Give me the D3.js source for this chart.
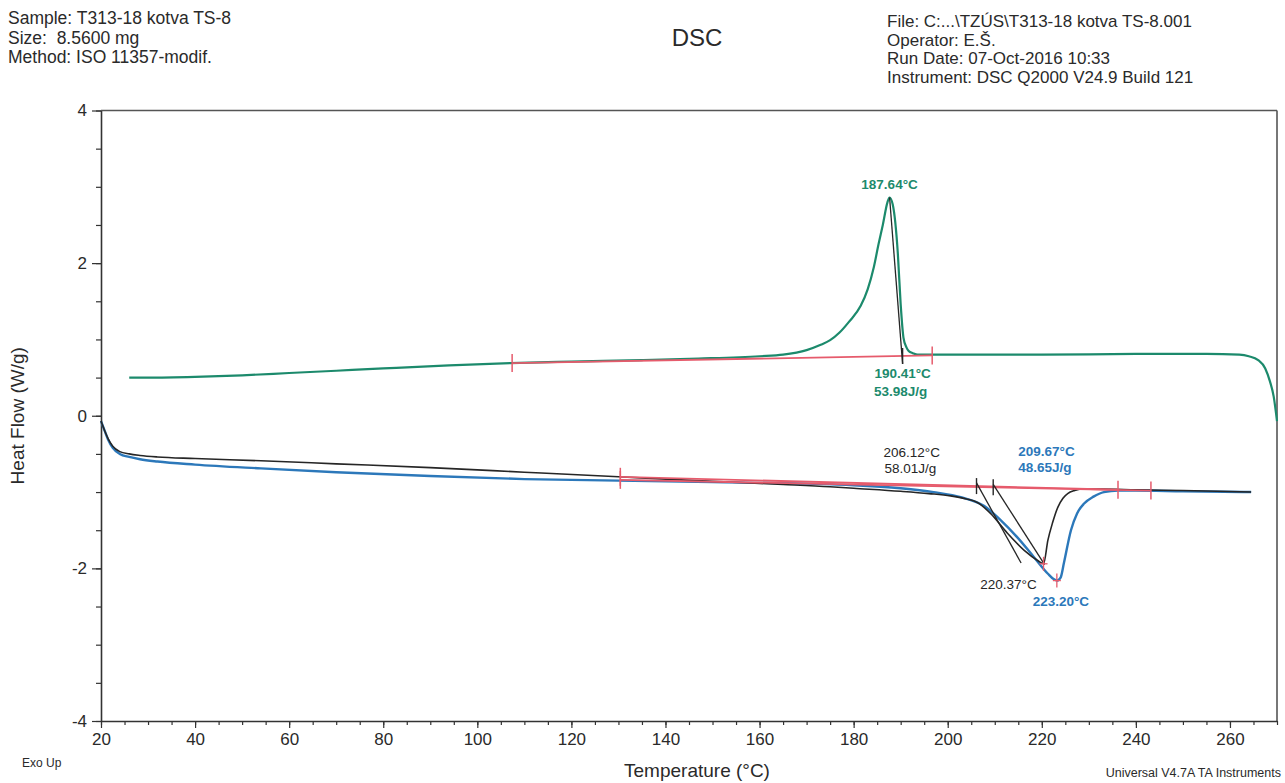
<!DOCTYPE html>
<html><head><meta charset="utf-8">
<script src="https://cdn.jsdelivr.net/npm/d3@7"></script>
<style>
body{margin:0;background:#fff;}
text{font-family:"Liberation Sans",Arial,sans-serif;}
</style>
</head><body>
<svg id="c" width="1285" height="783"></svg>
<script>
// ---------- data ----------
const greenT  = [26, 30, 40, 50, 60, 70, 80, 94, 107, 120, 135, 147, 160, 165, 170, 173, 175, 177, 179, 181.5, 183, 184.3, 185.3, 186.2, 187.2, 187.64, 188.3, 189.4, 190, 190.6, 191.2, 191.7, 192.6, 193.6, 200, 220, 240, 255, 262, 264, 266, 267.5, 268.5, 269.3, 270];
const greenHF = [0.50, 0.50, 0.51, 0.53, 0.56, 0.59, 0.62, 0.66, 0.69, 0.71, 0.73, 0.75, 0.78, 0.80, 0.86, 0.93, 0.99, 1.09, 1.23, 1.44, 1.66, 1.95, 2.25, 2.50, 2.80, 2.86, 2.77, 2.12, 1.46, 1.02, 0.90, 0.85, 0.82, 0.80, 0.80, 0.80, 0.81, 0.81, 0.80, 0.78, 0.73, 0.62, 0.45, 0.25, -0.07];

const blackT  = [20, 20.8, 21.5, 22.5, 24, 26, 28.3, 32, 40, 54, 70, 90, 110, 130, 150, 165, 175, 180, 190, 196, 200.6, 204, 206.4, 209.1, 212.7, 216.2, 219.2, 220.37, 221.3, 222.3, 223.4, 224.5, 225.5, 227, 229, 233, 240, 250, 264.5];
const blackHF = [-0.07, -0.20, -0.30, -0.40, -0.47, -0.50, -0.52, -0.54, -0.56, -0.59, -0.63, -0.68, -0.74, -0.80, -0.86, -0.90, -0.93, -0.95, -0.99, -1.02, -1.05, -1.09, -1.14, -1.28, -1.54, -1.76, -1.90, -1.94, -1.63, -1.40, -1.20, -1.08, -1.02, -0.98, -0.96, -0.96, -0.97, -0.98, -1.00];

const blueT  = [20, 20.8, 21.5, 22.5, 24, 26, 28.3, 32, 40, 54, 70, 90, 110, 130, 150, 170, 180, 190, 197, 203, 207.7, 211.3, 214.9, 218.3, 221.3, 222.5, 223.2, 224, 224.7, 226.2, 227.5, 229, 231, 233.2, 236.2, 240, 250, 264.5];
const blueHF = [-0.07, -0.20, -0.31, -0.42, -0.50, -0.54, -0.57, -0.60, -0.64, -0.69, -0.74, -0.79, -0.83, -0.85, -0.87, -0.89, -0.91, -0.95, -1.00, -1.07, -1.18, -1.37, -1.60, -1.85, -2.07, -2.14, -2.16, -2.12, -1.93, -1.50, -1.28, -1.15, -1.06, -1.00, -0.98, -0.98, -0.99, -1.00];

// integration baselines [T1, HF1, T2, HF2]
const baseGreen = [107.4, 0.69, 196.7, 0.79];
const baseBlack = [130.4, -0.80, 236.2, -0.97];
const baseBlue  = [130.4, -0.84, 243.2, -0.98];

// onset tangents [T1, HF1, T2, HF2]
const tanGreen = [187.64, 2.86, 190.41, 0.68];
const tanBlack = [206.12, -0.88, 215.6, -1.93];
const tanBlue  = [209.67, -0.90, 220.6, -1.95];

const xTicks = [20, 40, 60, 80, 100, 120, 140, 160, 180, 200, 220, 240, 260];
const yTicks = [-4, -2, 0, 2, 4];

const headerLeft  = ["Sample: T313-18 kotva TS-8", "Size:  8.5600 mg", "Method: ISO 11357-modif."];
const headerRight = ["File: C:...\\TZÚS\\T313-18 kotva TS-8.001", "Operator: E.Š.", "Run Date: 07-Oct-2016 10:33", "Instrument: DSC Q2000 V24.9 Build 121"];

// ---------- drawing ----------
const GREEN = "#1c8a6c", BLUE = "#2c78ba", BLACK = "#262626", RED = "#e65b6c";
const svg = d3.select("#c");
const x = d3.scaleLinear().domain([20, 270]).range([101, 1277]);
const y = d3.scaleLinear().domain([-4, 4]).range([721, 110.5]);

// header
svg.append("g").selectAll("text").data(headerLeft).join("text")
  .attr("x", 8).attr("y", (d, i) => 24 + i * 19.5)
  .attr("font-size", 17.5).attr("fill", "#2a2a2a").style("white-space", "pre").text(d => d);
svg.append("g").selectAll("text").data(headerRight).join("text")
  .attr("x", 887).attr("y", (d, i) => 27 + i * 18.7)
  .attr("font-size", 17).attr("fill", "#2a2a2a").text(d => d);
svg.append("text").attr("x", 697).attr("y", 46).attr("text-anchor", "middle")
  .attr("font-size", 24).attr("fill", "#2a2a2a").text("DSC");

// frame (top and right)
svg.append("line").attr("x1", x(20)).attr("x2", x(270)).attr("y1", y(4)).attr("y2", y(4))
  .attr("stroke", "#555").attr("stroke-width", 1.6);
svg.append("line").attr("x1", x(270)).attr("x2", x(270)).attr("y1", y(4)).attr("y2", y(-4))
  .attr("stroke", "#555").attr("stroke-width", 1.6);

// axes
const fmt = d => String(d);
const xMinor = d3.range(20, 271, 5);
const yMinor = d3.range(-4, 4.001, 0.5);
const gxm = svg.append("g").attr("transform", `translate(0,${y(-4)})`)
  .call(d3.axisBottom(x).tickValues(xMinor).tickSize(4).tickSizeOuter(0).tickFormat(""));
gxm.select(".domain").remove();
const gx = svg.append("g").attr("transform", `translate(0,${y(-4)})`)
  .call(d3.axisBottom(x).tickValues(xTicks).tickSize(7).tickSizeOuter(0).tickPadding(5).tickFormat(fmt));
const gym = svg.append("g").attr("transform", `translate(${x(20)},0)`)
  .call(d3.axisLeft(y).tickValues(yMinor).tickSize(5).tickSizeOuter(0).tickFormat(""));
gym.select(".domain").remove();
const gy = svg.append("g").attr("transform", `translate(${x(20)},0)`)
  .call(d3.axisLeft(y).tickValues(yTicks).tickSize(9).tickSizeOuter(0).tickPadding(5).tickFormat(fmt));
svg.selectAll(".domain").attr("stroke", "#333").attr("stroke-width", 1.6);
svg.selectAll(".tick line").attr("stroke", "#333").attr("stroke-width", 1.2);
gx.selectAll("text").attr("font-size", 17).attr("fill", "#2a2a2a").attr("font-family", "Liberation Sans, Arial, sans-serif");
gy.selectAll("text").attr("font-size", 17).attr("fill", "#2a2a2a").attr("font-family", "Liberation Sans, Arial, sans-serif");

// axis titles
svg.append("text").attr("transform", `translate(24,${y(0)}) rotate(-90)`).attr("text-anchor", "middle")
  .attr("font-size", 19).attr("fill", "#2a2a2a").text("Heat Flow (W/g)");
svg.append("text").attr("x", 697).attr("y", 777).attr("text-anchor", "middle")
  .attr("font-size", 19).attr("fill", "#2a2a2a").text("Temperature (°C)");
svg.append("text").attr("x", 22).attr("y", 767).attr("font-size", 12).attr("fill", "#2a2a2a").text("Exo Up");
svg.append("text").attr("x", 1281).attr("y", 777).attr("text-anchor", "end").attr("font-size", 12.5).attr("fill", "#2a2a2a").text("Universal V4.7A TA Instruments");

// curves
const line = d3.line().x(d => x(d[0])).y(d => y(d[1])).curve(d3.curveMonotoneX);
const series = [
  {T: greenT, v: greenHF, c: GREEN, w: 2.2},
  {T: blueT, v: blueHF, c: BLUE, w: 2.4},
  {T: blackT, v: blackHF, c: BLACK, w: 1.6}
];
series.forEach(s => {
  svg.append("path").datum(s.T.map((t, i) => [t, s.v[i]]))
    .attr("d", line).attr("fill", "none").attr("stroke", s.c).attr("stroke-width", s.w)
    .attr("stroke-linejoin", "round");
});

// baselines (red)
[baseGreen, baseBlack, baseBlue].forEach(b => {
  svg.append("line").attr("x1", x(b[0])).attr("y1", y(b[1])).attr("x2", x(b[2])).attr("y2", y(b[3]))
    .attr("stroke", RED).attr("stroke-width", 1.8);
  [[b[0], b[1]], [b[2], b[3]]].forEach(p => {
    svg.append("line").attr("x1", x(p[0])).attr("x2", x(p[0])).attr("y1", y(p[1]) - 9).attr("y2", y(p[1]) + 9)
      .attr("stroke", RED).attr("stroke-width", 1.5);
  });
});
function baseAt(b, T) { return b[1] + (T - b[0]) / (b[2] - b[0]) * (b[3] - b[1]); }

// tangents (black)
[tanGreen, tanBlack, tanBlue].forEach(t => {
  svg.append("line").attr("x1", x(t[0])).attr("y1", y(t[1])).attr("x2", x(t[2])).attr("y2", y(t[3]))
    .attr("stroke", BLACK).attr("stroke-width", 1.3);
});
// onset ticks
[[190.41, baseAt(baseGreen, 190.41)], [206.12, baseAt(baseBlack, 206.12)], [209.67, baseAt(baseBlue, 209.67)]].forEach(p => {
  svg.append("line").attr("x1", x(p[0])).attr("x2", x(p[0])).attr("y1", y(p[1]) - 8).attr("y2", y(p[1]) + 8)
    .attr("stroke", BLACK).attr("stroke-width", 1.4);
});
// peak markers (red crosses)
[[220.37, -1.94], [223.20, -2.16]].forEach(p => {
  svg.append("line").attr("x1", x(p[0])).attr("x2", x(p[0])).attr("y1", y(p[1]) - 7).attr("y2", y(p[1]) + 7).attr("stroke", RED).attr("stroke-width", 1.3);
  svg.append("line").attr("x1", x(p[0]) - 4).attr("x2", x(p[0]) + 4).attr("y1", y(p[1])).attr("y2", y(p[1])).attr("stroke", RED).attr("stroke-width", 1.3);
});

// annotations
const ann = [
  {t: "187.64°C", T: 187.64, v: 2.86, dx: 0, dy: -8, a: "middle", c: GREEN, b: true},
  {t: "190.41°C", T: 190.41, v: 0.79, dx: 0, dy: 23, a: "middle", c: GREEN, b: true},
  {t: "53.98J/g", T: 190.41, v: 0.79, dx: -2, dy: 41, a: "middle", c: GREEN, b: true},
  {t: "206.12°C", T: 206.12, v: -0.92, dx: -93, dy: -29, a: "start", c: BLACK, b: false},
  {t: "58.01J/g", T: 206.12, v: -0.92, dx: -92, dy: -13, a: "start", c: BLACK, b: false},
  {t: "209.67°C", T: 209.67, v: -0.94, dx: 25, dy: -31, a: "start", c: BLUE, b: true},
  {t: "48.65J/g", T: 209.67, v: -0.94, dx: 25, dy: -15, a: "start", c: BLUE, b: true},
  {t: "220.37°C", T: 220.37, v: -1.94, dx: -35, dy: 25, a: "middle", c: BLACK, b: false},
  {t: "223.20°C", T: 223.20, v: -2.16, dx: 4, dy: 25, a: "middle", c: BLUE, b: true}
];
svg.append("g").selectAll("text").data(ann).join("text")
  .attr("x", d => x(d.T) + d.dx).attr("y", d => y(d.v) + d.dy)
  .attr("text-anchor", d => d.a).attr("fill", d => d.c)
  .attr("font-weight", d => d.b ? "bold" : "normal").attr("font-size", 13.5).text(d => d.t);
</script>
</body></html>
